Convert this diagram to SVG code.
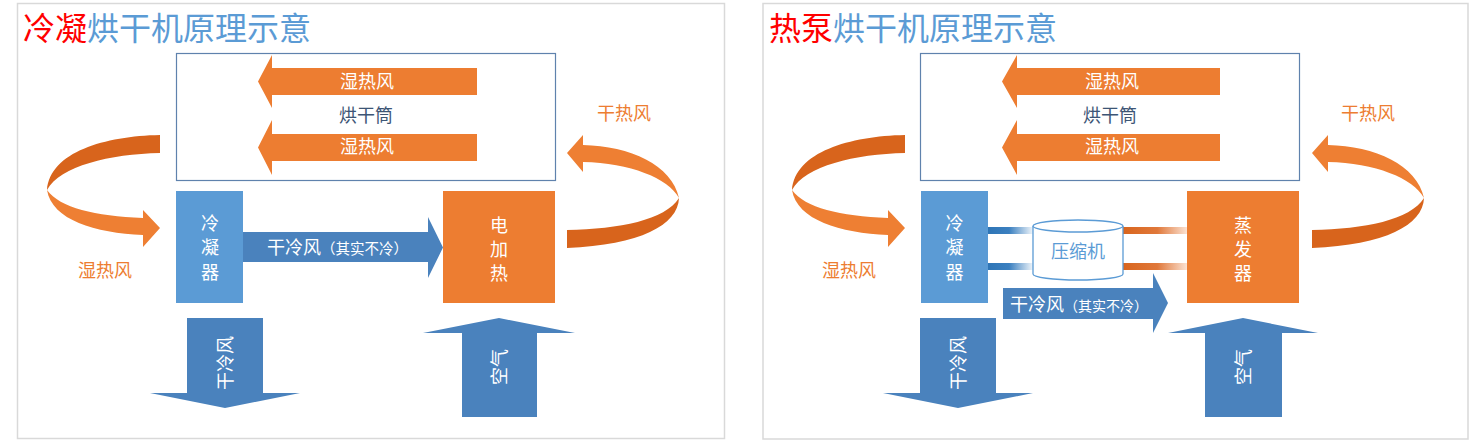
<svg xmlns="http://www.w3.org/2000/svg" width="1478" height="447" viewBox="0 0 1478 447">
<defs>
<style>
text{font-family:"Noto Sans CJK SC","Noto Sans",sans-serif;}
.panel{fill:#ffffff;stroke:#d9d9d9;stroke-width:1.5;}
.title{font-size:32px;}
.red{fill:#ff0000;}
.blue{fill:#5b9bd5;}
.drum{fill:#ffffff;stroke:#5f82ad;stroke-width:1.2;}
.oarr{fill:#ed7d31;}
.obox{fill:#ed7d31;}
.bbox{fill:#5b9bd5;}
.barr{fill:#4a82bd;}
.dark{fill:#d8641c;}
.light{fill:#ee7f33;}
.wt{fill:#ffffff;font-size:18px;}
.wtc{fill:#ffffff;font-size:18px;text-anchor:middle;}
.ot{fill:#ed7d31;font-size:18px;}
.dt{fill:#3d5575;font-size:18px;text-anchor:middle;}
.ct{fill:#5b9bd5;font-size:18px;text-anchor:middle;}
.cyl{fill:#ffffff;stroke:#5b9bd5;stroke-width:1.3;}
</style>
<linearGradient id="gBlue" x1="0" y1="0" x2="1" y2="0">
<stop offset="0" stop-color="#2e75b6"/>
<stop offset="0.45" stop-color="#3b80c0"/>
<stop offset="1" stop-color="#ffffff"/>
</linearGradient>
<linearGradient id="gOrange" x1="0" y1="0" x2="1" y2="0">
<stop offset="0" stop-color="#d8641c"/>
<stop offset="0.55" stop-color="#e0783a"/>
<stop offset="1" stop-color="#fbe2d2"/>
</linearGradient>
</defs>

<g id="panel-left">
<rect class="panel" x="17.5" y="3.5" width="707" height="435"/>
<text class="title" x="23" y="40"><tspan class="red">冷凝</tspan><tspan class="blue">烘干机原理示意</tspan></text>
</g>
<g id="panel-right">
<rect class="panel" x="763" y="3.5" width="705" height="435.5"/>
<text class="title" x="769" y="40"><tspan class="red">热泵</tspan><tspan class="blue">烘干机原理示意</tspan></text>
</g>

<!-- Left panel nodes -->
<g id="drum-left">
<rect class="drum" x="176.5" y="53.5" width="379" height="127"/>
<text class="dt" x="366" y="122">烘干筒</text>
</g>
<g id="condenser-left">
<rect class="bbox" x="176" y="191" width="67" height="112"/>
<text class="wtc" x="210" y="230">冷</text>
<text class="wtc" x="210" y="254">凝</text>
<text class="wtc" x="210" y="279">器</text>
</g>
<g id="heater-left">
<rect class="obox" x="443" y="191" width="112" height="112"/>
<text class="wtc" x="499" y="232">电</text>
<text class="wtc" x="499" y="256">加</text>
<text class="wtc" x="499" y="280">热</text>
</g>

<!-- Right panel nodes -->
<g id="drum-right">
<rect class="drum" x="920.5" y="53.5" width="379" height="127"/>
<text class="dt" x="1110" y="122">烘干筒</text>
</g>
<g id="condenser-right">
<rect class="bbox" x="921" y="191" width="67" height="112"/>
<text class="wtc" x="954.5" y="230">冷</text>
<text class="wtc" x="954.5" y="254">凝</text>
<text class="wtc" x="954.5" y="279">器</text>
</g>
<g id="evaporator-right">
<rect class="obox" x="1187" y="191" width="112" height="112"/>
<text class="wtc" x="1243" y="232">蒸</text>
<text class="wtc" x="1243" y="256">发</text>
<text class="wtc" x="1243" y="280">器</text>
</g>

<g id="connectors">
<!-- left panel: drum arrows -->
<g id="l-wet1">
<polygon class="oarr" points="477,68 272,68 272,55 258,81.5 272,108 272,95 477,95"/>
<text class="wtc" x="367" y="88">湿热风</text>
</g>
<g id="l-wet2">
<polygon class="oarr" points="477,134 272,134 272,120 258,147.5 272,175 272,161 477,161"/>
<text class="wtc" x="367" y="153">湿热风</text>
</g>
<!-- left curved arrow (wet hot air) -->
<g id="l-curve-left">
<path class="dark" d="M160,135 L160,153 C110,154 60,166 47,190 C50,152 105,136 160,135 Z"/>
<path class="light" d="M47,190 C52,220 95,233 143,235 L143,247 L160,228 L143,210 L143,218 C95,216 60,208 47,190 Z"/>
<text class="ot" x="78" y="277">湿热风</text>
</g>
<!-- right curved arrow (dry hot air) -->
<g id="l-curve-right">
<path class="light" d="M583,145 C630,146 672,165 679,198 C668,178 630,163 583,162 L583,172 L567,153 L583,135 Z"/>
<path class="dark" d="M679,198 C678,225 640,245 567,248 L567,230 C620,229 665,220 679,198 Z"/>
<text class="ot" x="597" y="120">干热风</text>
</g>
<!-- dry cold air arrow -->
<g id="l-dry">
<polygon class="barr" points="243,232 428,232 428,217 443,247.5 428,278 428,262 243,262"/>
<text class="wt" x="267" y="254">干冷风<tspan font-size="14.5px">（其实不冷）</tspan></text>
</g>
<!-- down arrow -->
<g id="l-down">
<polygon class="barr" points="187,318 263,318 263,393 300,393 225,408 150,393 187,393"/>
<text class="wtc" transform="translate(225,363) rotate(-90)" x="0" y="7">干冷风</text>
</g>
<!-- up arrow -->
<g id="l-up">
<polygon class="barr" points="499,318 575,333 537,333 537,417 462,417 462,333 423,333"/>
<text class="wtc" transform="translate(499,367) rotate(-90)" x="0" y="7">空气</text>
</g>

<!-- right panel -->
<g id="r-wet1">
<polygon class="oarr" points="1220,68 1017,68 1017,55 1002,81.5 1017,108 1017,95 1220,95"/>
<text class="wtc" x="1112" y="88">湿热风</text>
</g>
<g id="r-wet2">
<polygon class="oarr" points="1220,134 1017,134 1017,120 1002,147.5 1017,175 1017,161 1220,161"/>
<text class="wtc" x="1112" y="153">湿热风</text>
</g>
<g id="r-curve-left">
<path class="dark" d="M905,135 L905,153 C855,154 805,166 792,190 C795,152 850,136 905,135 Z"/>
<path class="light" d="M792,190 C797,220 840,233 888,235 L888,247 L905,228 L888,210 L888,218 C840,216 805,208 792,190 Z"/>
<text class="ot" x="822" y="277">湿热风</text>
</g>
<g id="r-curve-right">
<path class="light" d="M1328,145 C1375,146 1417,165 1424,198 C1413,178 1375,163 1328,162 L1328,172 L1312,153 L1328,135 Z"/>
<path class="dark" d="M1424,198 C1423,225 1385,245 1312,248 L1312,230 C1365,229 1410,220 1424,198 Z"/>
<text class="ot" x="1341" y="120">干热风</text>
</g>
<!-- pipes -->
<g id="r-pipes">
<rect x="988" y="227" width="47" height="7" fill="url(#gBlue)"/>
<rect x="988" y="263" width="47" height="7" fill="url(#gBlue)"/>
<rect x="1121" y="227" width="66" height="7" fill="url(#gOrange)"/>
<rect x="1121" y="263" width="66" height="7" fill="url(#gOrange)"/>
</g>
<g id="r-dry">
<polygon class="barr" points="1003,288 1153,288 1153,273 1168,303 1153,333 1153,319 1003,319"/>
<text class="wt" x="1010" y="311">干冷风<tspan font-size="14px">（其实不冷）</tspan></text>
</g>
<g id="r-down">
<polygon class="barr" points="920,318 996,318 996,393 1033,393 958,408 883,393 920,393"/>
<text class="wtc" transform="translate(958,363) rotate(-90)" x="0" y="7">干冷风</text>
</g>
<g id="r-up">
<polygon class="barr" points="1243,318 1318,333 1282,333 1282,417 1205,417 1205,333 1168,333"/>
<text class="wtc" transform="translate(1243,367) rotate(-90)" x="0" y="7">空气</text>
</g>
</g>

<g id="compressor">
<path class="cyl" d="M1033,226 L1033,274 A45,6 0 0 0 1123,274 L1123,226"/>
<ellipse class="cyl" cx="1078" cy="226" rx="45" ry="6"/>
<text class="ct" x="1078" y="258">压缩机</text>
</g>
</svg>
